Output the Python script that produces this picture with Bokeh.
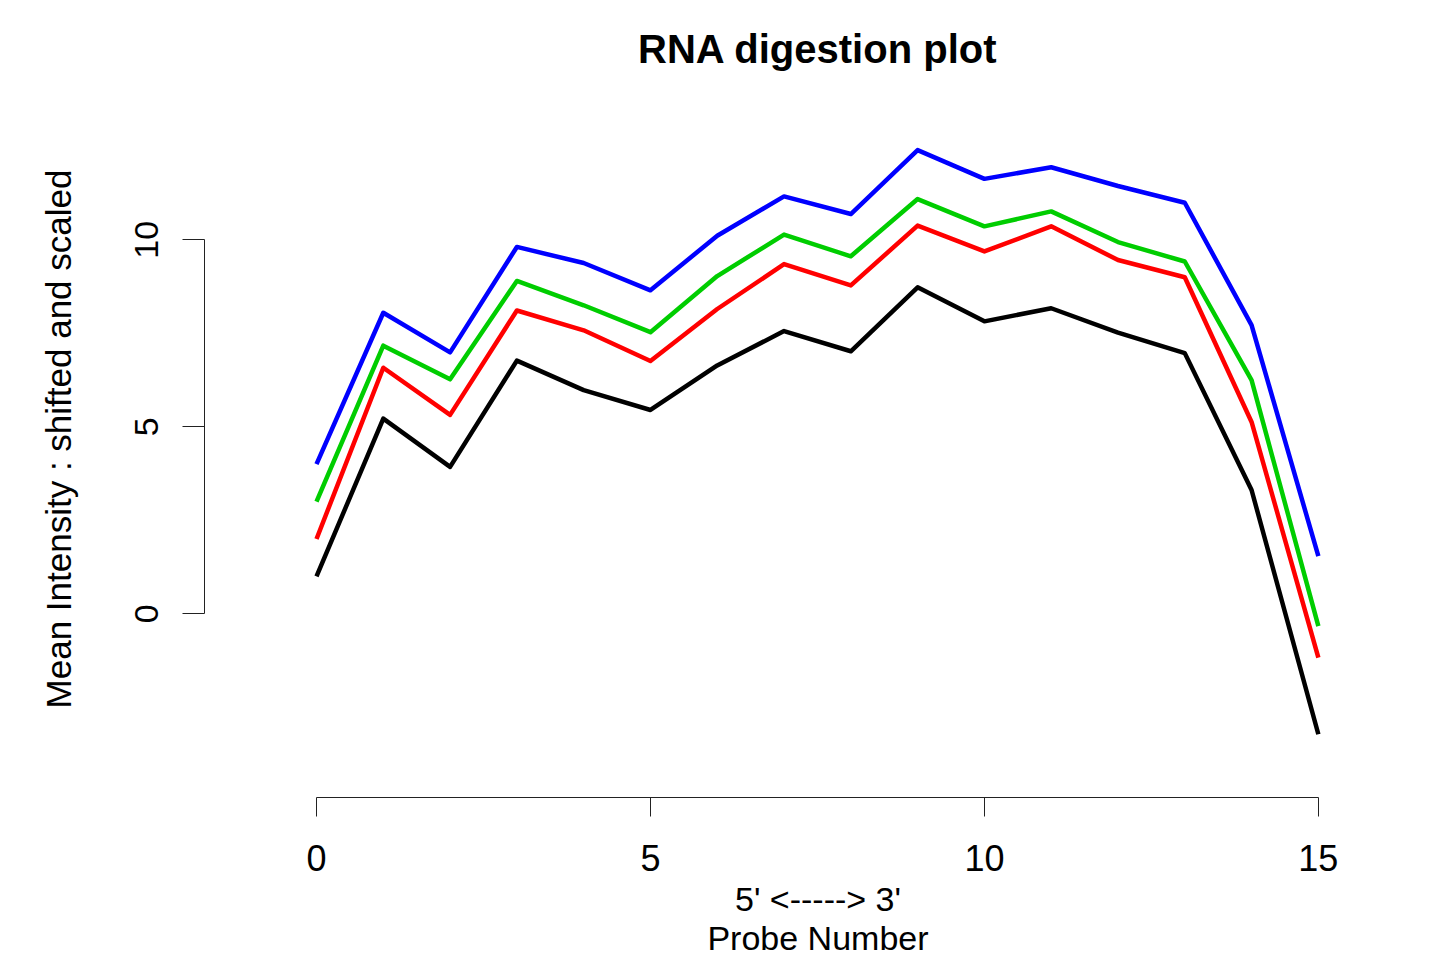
from bokeh.plotting import figure
from bokeh.models import Range1d, FixedTicker
from bokeh.embed import file_html
from bokeh.resources import INLINE

probe = list(range(16))
sample1 = [1.0, 5.22, 3.93, 6.77, 5.98, 5.45, 6.64, 7.56, 7.02, 8.73, 7.82, 8.17, 7.52, 6.97, 3.31, -3.22]
sample2 = [2.0, 6.58, 5.32, 8.11, 7.58, 6.76, 8.15, 9.35, 8.78, 10.38, 9.69, 10.36, 9.46, 9.00, 5.13, -1.17]
sample3 = [3.0, 7.17, 6.27, 8.90, 8.25, 7.53, 9.03, 10.14, 9.56, 11.09, 10.36, 10.76, 9.94, 9.42, 6.25, -0.33]
sample4 = [4.0, 8.05, 6.99, 9.81, 9.38, 8.65, 10.11, 11.16, 10.69, 12.40, 11.63, 11.94, 11.44, 10.99, 7.72, 1.54]
series = [sample1, sample2, sample3, sample4]
colors = ["#000000", "#FF0000", "#00CD00", "#0000FF"]

x_ticks = [0, 5, 10, 15]
y_ticks = [0, 5, 10]

FONT = "Liberation Sans"

p = figure(width=1431, height=965, output_backend="svg", toolbar_location=None,
           x_range=Range1d(-1.677, 16.694), y_range=Range1d(-4.912, 14.26),
           min_border_left=204, min_border_right=0, min_border_top=80, min_border_bottom=168,
           title="RNA digestion plot")

p.background_fill_color = "white"
p.border_fill_color = "white"
p.outline_line_color = None
p.grid.visible = False

p.title.align = "center"
p.title.text_font = FONT
p.title.text_font_size = "40px"
p.title.text_font_style = "bold"
p.title.text_color = "black"
p.title.standoff = 20

for s, c in zip(series, colors):
    p.line(probe, s, line_color=c, line_width=4.5, line_join="round")

xa = p.xaxis[0]
xa.ticker = FixedTicker(ticks=x_ticks)
xa.bounds = (0, 15)
xa.minor_tick_line_color = None
xa.major_tick_out = 19
xa.major_tick_in = 0
xa.axis_line_color = "#222222"
xa.major_tick_line_color = "#222222"
xa.major_label_text_font = FONT
xa.major_label_text_font_size = "36px"
xa.major_label_text_color = "black"
xa.major_label_standoff = 28
xa.axis_label = "5' <-----> 3'\nProbe Number"
xa.axis_label_text_font = FONT
xa.axis_label_text_font_size = "34px"
xa.axis_label_text_font_style = "normal"
xa.axis_label_text_color = "black"
xa.axis_label_text_line_height = 1.04
xa.axis_label_standoff = 6

ya = p.yaxis[0]
ya.ticker = FixedTicker(ticks=y_ticks)
ya.bounds = (0, 10)
ya.minor_tick_line_color = None
ya.major_tick_out = 22
ya.major_tick_in = 0
ya.axis_line_color = "#222222"
ya.major_tick_line_color = "#222222"
ya.major_label_text_font = FONT
ya.major_label_text_font_size = "34px"
ya.major_label_text_color = "black"
ya.major_label_orientation = "vertical"
ya.major_label_standoff = 24
ya.axis_label = "Mean Intensity : shifted and scaled"
ya.axis_label_text_font = FONT
ya.axis_label_text_font_size = "35px"
ya.axis_label_text_font_style = "normal"
ya.axis_label_text_color = "black"
ya.axis_label_standoff = 55

open("out.html", "w").write(file_html(p, INLINE))
